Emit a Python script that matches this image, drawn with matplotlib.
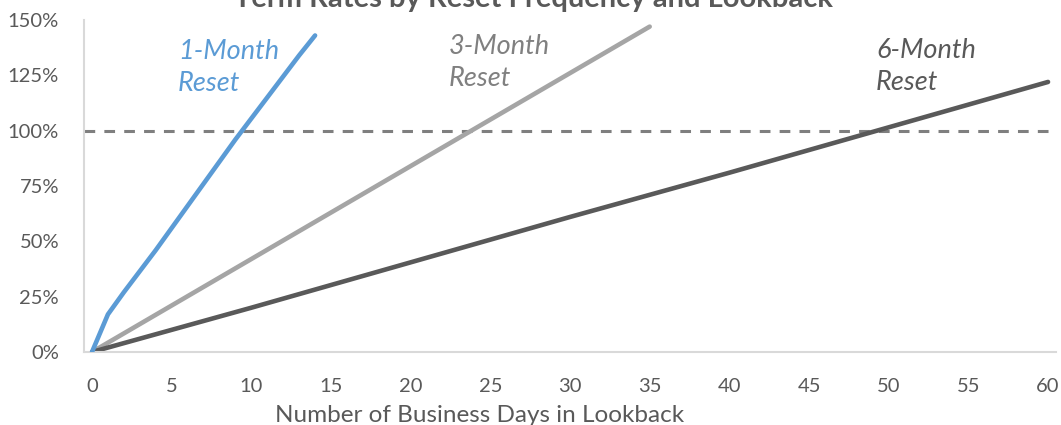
import matplotlib.pyplot as plt
from matplotlib.ticker import FuncFormatter

# lookback days vs term rate share
one_month_days = [0, 1, 2, 3, 4, 5, 6, 7, 8, 9, 10, 11, 12, 13, 14]
one_month = [0, 0.17, 0.27, 0.365, 0.46, 0.56, 0.66, 0.76, 0.86, 0.96, 1.055, 1.15, 1.245, 1.34, 1.43]
three_month_days = [0, 5, 10, 15, 20, 25, 30, 35]
three_month = [0, 0.21, 0.42, 0.63, 0.84, 1.05, 1.26, 1.47]
six_month_days = [0, 10, 20, 30, 40, 50, 60]
six_month = [0, 0.20, 0.405, 0.61, 0.81, 1.015, 1.22]
x_ticks = [0, 5, 10, 15, 20, 25, 30, 35, 40, 45, 50, 55, 60]
y_ticks = [0, 0.25, 0.5, 0.75, 1.0, 1.25, 1.5]

plt.rcParams['font.family'] = ['Lato', 'DejaVu Sans']

fig = plt.figure(figsize=(10.61, 4.25), dpi=100)
ax = fig.add_axes([0.0792, 0.1718, 0.9161, 0.7812])

ax.axhline(1.0, color='#7f7f7f', lw=2.2, ls=(0, (3.5, 3)), zorder=1)
ax.plot(one_month_days, one_month, color='#5b9bd5', lw=3.3, solid_capstyle='round', zorder=3)
ax.plot(three_month_days, three_month, color='#a5a5a5', lw=3.3, solid_capstyle='round', zorder=2)
ax.plot(six_month_days, six_month, color='#595959', lw=3.3, solid_capstyle='round', zorder=2)

label_style = dict(fontsize=19.5, style='italic', ha='left', va='center', linespacing=1.35)
ax.text(5.4, 1.285, '1-Month\nReset', color='#5b9bd5', **label_style)
ax.text(22.4, 1.31, '3-Month\nReset', color='#808080', **label_style)
ax.text(49.2, 1.29, '6-Month\nReset', color='#595959', **label_style)

ax.set_xlim(-0.5, 60.5)
ax.set_ylim(0, 1.5)
ax.set_xticks(x_ticks)
ax.set_yticks(y_ticks)
ax.yaxis.set_major_formatter(FuncFormatter(lambda v, p: '{:.0f}%'.format(v * 100)))
ax.tick_params(length=0, labelsize=14.5, labelcolor='#595959')
ax.tick_params(axis='x', pad=19)
ax.tick_params(axis='y', pad=18)
for s in ['top', 'right']:
    ax.spines[s].set_visible(False)
for s in ['left', 'bottom']:
    ax.spines[s].set_color('#d9d9d9')
    ax.spines[s].set_linewidth(1.5)

ax.set_xlabel('Number of Business Days in Lookback', fontsize=17.5, color='#595959')
ax.xaxis.set_label_coords(0.407, -0.16)

fig.text(0.503, 1 - 7 / 425, 'Term Rates by Reset Frequency and Lookback',
         ha='center', va='baseline', fontsize=21, fontweight='bold', color='#595959')

fig.savefig('out.png', dpi=100)
